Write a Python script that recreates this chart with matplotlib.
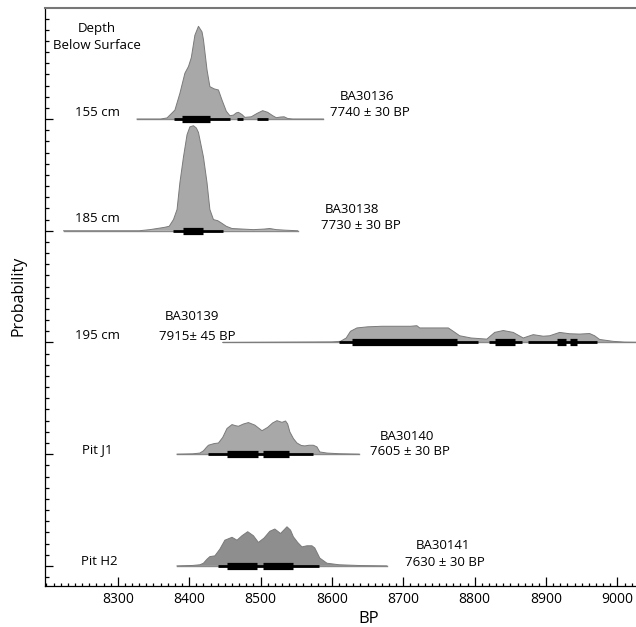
import matplotlib.pyplot as plt
import numpy as np

plt.rcParams['font.family'] = ['Open Sans', 'DejaVu Sans']

# calibrated probability curves (BP, relative height)
bp_155 = [8327, 8360, 8369, 8380, 8387, 8394, 8399, 8403, 8408, 8413, 8418, 8420, 8425, 8429, 8435,
          8441, 8446, 8452, 8457, 8462, 8466, 8469, 8474, 8478, 8487, 8495, 8503, 8510, 8517, 8522,
          8528, 8533, 8538, 8545, 8588]
p_155 = [0, 0, 0.01, 0.08, 0.23, 0.41, 0.47, 0.55, 0.75, 0.83, 0.78, 0.71, 0.44, 0.29, 0.27,
         0.26, 0.17, 0.07, 0.03, 0.035, 0.055, 0.06, 0.04, 0.015, 0.02, 0.05, 0.075, 0.06, 0.03, 0.012,
         0.018, 0.02, 0.005, 0, 0]

bp_185 = [8224, 8330, 8345, 8355, 8365, 8372, 8378, 8383, 8387, 8392, 8397, 8401, 8406, 8410, 8413,
          8420, 8425, 8429, 8434, 8440, 8445, 8452, 8460, 8475, 8490, 8505, 8513, 8522, 8535, 8552]
p_185 = [0, 0, 0.01, 0.02, 0.03, 0.04, 0.1, 0.19, 0.43, 0.66, 0.86, 0.93, 0.94, 0.92, 0.88,
         0.66, 0.43, 0.19, 0.1, 0.09, 0.07, 0.04, 0.02, 0.015, 0.01, 0.015, 0.02, 0.01, 0.005, 0]

bp_195 = [8447, 8600, 8612, 8620, 8626, 8635, 8650, 8670, 8690, 8710, 8719, 8723, 8763, 8770, 8779,
          8795, 8817, 8828, 8840, 8854, 8868, 8882, 8896, 8905, 8919, 8933, 8947, 8961, 8968, 8975,
          8994, 9010, 9040]
p_195 = [0, 0.005, 0.01, 0.04, 0.1, 0.13, 0.14, 0.145, 0.145, 0.145, 0.15, 0.13, 0.13, 0.1, 0.06,
         0.04, 0.03, 0.09, 0.107, 0.09, 0.04, 0.07, 0.056, 0.06, 0.09, 0.078, 0.075, 0.08, 0.06, 0.027,
         0.01, 0.003, 0]

bp_j1 = [8383, 8405, 8415, 8420, 8424, 8427, 8435, 8441, 8447, 8453, 8460, 8465, 8469, 8476, 8483,
         8492, 8502, 8510, 8517, 8523, 8530, 8535, 8538, 8541, 8546, 8551, 8557, 8562, 8568, 8574,
         8579, 8583, 8593, 8610, 8638]
p_j1 = [0, 0.003, 0.01, 0.03, 0.06, 0.08, 0.095, 0.1, 0.15, 0.23, 0.265, 0.255, 0.25, 0.27, 0.283,
        0.26, 0.21, 0.24, 0.28, 0.30, 0.285, 0.297, 0.27, 0.2, 0.14, 0.1, 0.078, 0.074, 0.08, 0.08,
        0.065, 0.02, 0.01, 0.004, 0]

bp_h2 = [8383, 8405, 8415, 8420, 8425, 8429, 8436, 8443, 8450, 8460, 8467, 8474, 8482, 8490, 8497,
         8505, 8513, 8520, 8528, 8537, 8542, 8546, 8552, 8558, 8565, 8572, 8576, 8583, 8593, 8610,
         8640, 8677]
p_h2 = [0, 0.004, 0.01, 0.024, 0.06, 0.083, 0.09, 0.15, 0.23, 0.256, 0.23, 0.27, 0.306, 0.27, 0.21,
        0.25, 0.31, 0.33, 0.29, 0.35, 0.32, 0.26, 0.21, 0.17, 0.18, 0.18, 0.16, 0.07, 0.024, 0.01,
        0.003, 0]

# 95.4% (thin) and 68.2% (thick) ranges
r95_155 = [(8379, 8457), (8467, 8476), (8495, 8510)]
r68_155 = [(8390, 8429)]
r95_185 = [(8377, 8447)]
r68_185 = [(8391, 8419)]
r95_195 = [(8610, 8805), (8820, 8866), (8874, 8971)]
r68_195 = [(8628, 8775), (8828, 8856), (8916, 8928), (8933, 8944)]
r95_j1 = [(8427, 8574)]
r68_j1 = [(8453, 8496), (8503, 8540)]
r95_h2 = [(8441, 8582)]
r68_h2 = [(8453, 8495), (8503, 8546)]

depths = ['155 cm', '185 cm', '195 cm', 'Pit J1', 'Pit H2']
lab_ids = ['BA30136', 'BA30138', 'BA30139', 'BA30140', 'BA30141']
lab_ages = ['7740 ± 30 BP', '7730 ± 30 BP', '7915± 45 BP', '7605 ± 30 BP', '7630 ± 30 BP']

curves = [(bp_155, p_155, r95_155, r68_155), (bp_185, p_185, r95_185, r68_185),
          (bp_195, p_195, r95_195, r68_195), (bp_j1, p_j1, r95_j1, r68_j1),
          (bp_h2, p_h2, r95_h2, r68_h2)]
fills = ['#a8a8a8', '#a8a8a8', '#a8a8a8', '#a8a8a8', '#8e8e8e']
bases = [4, 3, 2, 1, 0]

# label positions (x in BP, y in row units)
depth_pos = [(8271, 4.023), (8271, 3.08), (8271, 2.027), (8271, 1.006), (8274, 0.012)]
id_pos = [(8649, 4.166), (8628, 3.158), (8404, 2.20), (8705, 1.13), (8756, 0.152)]
age_pos = [(8653, 4.023), (8641, 3.02), (8411, 2.02), (8709, 0.99), (8758, 0.003)]

fig = plt.figure(figsize=(6.36, 6.27), dpi=100)
ax = fig.add_axes([45 / 636, 1 - 586 / 627, 1 - 45 / 636, (586 - 8) / 627])

for (bp, p, r95, r68), base, fc in zip(curves, bases, fills):
    bp = np.array(bp)
    p = np.array(p)
    ax.plot([bp[0], bp[-1]], [base, base], color='#8a8a8a', lw=1, zorder=2)
    ax.fill_between(bp, base, base + p, facecolor=fc, lw=0, zorder=1)
    ax.plot(bp, base + p, color='#7a7a7a', lw=0.7, zorder=2)
    for s, e in r95:
        ax.hlines(base, s, e, color='black', lw=2.0, capstyle='butt', zorder=3)
    for s, e in r68:
        ax.hlines(base, s, e, color='black', lw=5.2, capstyle='butt', zorder=3)

fs = 9.5
for txt, (x, y) in zip(depths, depth_pos):
    ax.text(x, y, txt, ha='center', va='baseline', fontsize=fs)
for txt, (x, y) in zip(lab_ids, id_pos):
    ax.text(x, y, txt, ha='center', va='baseline', fontsize=fs)
for txt, (x, y) in zip(lab_ages, age_pos):
    ax.text(x, y, txt, ha='center', va='baseline', fontsize=fs)
ax.text(8271, 4.777, 'Depth', ha='center', va='baseline', fontsize=fs)
ax.text(8271, 4.625, 'Below Surface', ha='center', va='baseline', fontsize=fs)

ax.set_xlim(8198, 9026)
ax.set_ylim(-0.18, 4.994)
ax.set_xticks(np.arange(8300, 9001, 100))
ax.set_xticks(np.arange(8200, 9030, 10), minor=True)
ax.set_yticks(np.arange(0, 5, 1))
ax.set_yticks(np.arange(-0.1, 4.95, 0.1), minor=True)
ax.set_yticklabels([])
ax.tick_params(which='both', direction='in', width=0.9, labelsize=10)
ax.tick_params(axis='x', which='major', length=6.5, pad=4)
ax.tick_params(axis='x', which='minor', length=2.4)
ax.tick_params(axis='y', which='major', length=6)
ax.tick_params(axis='y', which='minor', length=3)

ax.spines['right'].set_visible(False)
ax.spines['top'].set_color('#777777')
ax.spines['top'].set_linewidth(1.5)
ax.spines['left'].set_linewidth(0.9)
ax.spines['bottom'].set_linewidth(0.9)

fig.text(369 / 636, 0.0, 'BP', ha='center', va='bottom', fontsize=12)
fig.text(19 / 636, 1 - 296 / 627, 'Probability', ha='center', va='center', rotation=90, fontsize=11.5)

fig.savefig('out.png', dpi=100)
